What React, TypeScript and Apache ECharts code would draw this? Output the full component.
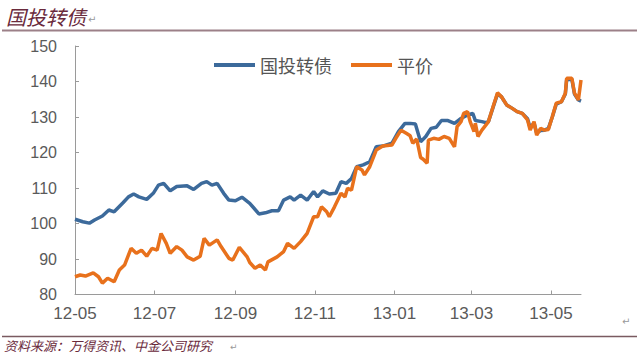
import React, { useEffect, useRef } from "react";
import * as echarts from "echarts";

const titleText = "国投转债";
const sourceText = "资料来源：万得资讯、中金公司研究";
const seriesNames = ["国投转债", "平价"];

const yTicks = [80, 90, 100, 110, 120, 130, 140, 150];
const xTickDates = ["2012-05-01", "2012-07-01", "2012-09-01", "2012-11-01", "2013-01-01", "2013-03-01", "2013-05-01"];
const xTickLabels = ["12-05", "12-07", "12-09", "12-11", "13-01", "13-03", "13-05"];

const bondDates = [
  "2012-05-01", "2012-05-07", "2012-05-12", "2012-05-16", "2012-05-22", "2012-05-27", "2012-05-31",
  "2012-06-07", "2012-06-11", "2012-06-15", "2012-06-19", "2012-06-25", "2012-06-30",
  "2012-07-04", "2012-07-08", "2012-07-13", "2012-07-18", "2012-07-26", "2012-07-31",
  "2012-08-06", "2012-08-10", "2012-08-14", "2012-08-18", "2012-08-23", "2012-08-27",
  "2012-09-01", "2012-09-06", "2012-09-12", "2012-09-19", "2012-09-24", "2012-09-29",
  "2012-10-04", "2012-10-08", "2012-10-13", "2012-10-16", "2012-10-21", "2012-10-26", "2012-10-31",
  "2012-11-03", "2012-11-07", "2012-11-12", "2012-11-17", "2012-11-21", "2012-11-25", "2012-11-29",
  "2012-12-03", "2012-12-08", "2012-12-13", "2012-12-18", "2012-12-23", "2012-12-30",
  "2013-01-04", "2013-01-09", "2013-01-13", "2013-01-17", "2013-01-21", "2013-01-25", "2013-01-29",
  "2013-02-02", "2013-02-06", "2013-02-11", "2013-02-16", "2013-02-21", "2013-02-26",
  "2013-03-02", "2013-03-04", "2013-03-09", "2013-03-12", "2013-03-14", "2013-03-18", "2013-03-21",
  "2013-03-24", "2013-03-28", "2013-04-01", "2013-04-05", "2013-04-09", "2013-04-13", "2013-04-15",
  "2013-04-18", "2013-04-20", "2013-04-23", "2013-04-26", "2013-04-29", "2013-05-02", "2013-05-05",
  "2013-05-09", "2013-05-12", "2013-05-13", "2013-05-17", "2013-05-19", "2013-05-22", "2013-05-24",
];
const bondValues = [
  101.2, 100.5, 100.1, 101.0, 102.1, 103.8, 103.3,
  105.9, 107.5, 108.3, 107.5, 106.8, 108.5,
  110.8, 111.3, 109.2, 110.4, 110.6, 109.6,
  111.3, 111.8, 110.8, 111.3, 108.5, 106.6,
  106.4, 107.4, 105.7, 102.7, 103.0, 103.6,
  103.6, 106.6, 107.5, 106.6, 108.0, 106.6, 109.0,
  107.5, 109.2, 108.3, 108.5, 111.8, 111.3, 112.7,
  116.0, 116.5, 117.4, 121.6, 121.8, 122.6,
  125.9, 128.2, 128.2, 128.0, 123.0, 124.5, 126.8,
  127.1, 129.0, 129.0, 128.2, 129.6, 130.6,
  131.0, 129.0, 128.7, 128.4, 128.7, 133.2, 136.5,
  135.7, 133.4, 132.5, 131.5, 131.0, 129.5, 127.0,
  128.3, 125.5, 126.2, 126.3, 126.8, 130.0, 133.6,
  134.3, 136.5, 140.5, 140.6, 136.5, 134.8, 134.5,
];

const parityDates = [
  "2012-05-01", "2012-05-05", "2012-05-09", "2012-05-15", "2012-05-19", "2012-05-22", "2012-05-26", "2012-05-31",
  "2012-06-04", "2012-06-08", "2012-06-13", "2012-06-17", "2012-06-21", "2012-06-25", "2012-06-29",
  "2012-07-03", "2012-07-06", "2012-07-10", "2012-07-13", "2012-07-18", "2012-07-22", "2012-07-26", "2012-07-31",
  "2012-08-05", "2012-08-08", "2012-08-12", "2012-08-18", "2012-08-21", "2012-08-27", "2012-08-30",
  "2012-09-04", "2012-09-10", "2012-09-12", "2012-09-16", "2012-09-20", "2012-09-24", "2012-09-26",
  "2012-10-03", "2012-10-08", "2012-10-11", "2012-10-16", "2012-10-21", "2012-10-26", "2012-10-31",
  "2012-11-03", "2012-11-06", "2012-11-10", "2012-11-12", "2012-11-16", "2012-11-21", "2012-11-24", "2012-11-26", "2012-11-29",
  "2012-12-03", "2012-12-07", "2012-12-09", "2012-12-13", "2012-12-18", "2012-12-23", "2012-12-30",
  "2013-01-02", "2013-01-06", "2013-01-10", "2013-01-13", "2013-01-15", "2013-01-18", "2013-01-21", "2013-01-23", "2013-01-26", "2013-01-27", "2013-01-31",
  "2013-02-04", "2013-02-08", "2013-02-12", "2013-02-16", "2013-02-18", "2013-02-21", "2013-02-23", "2013-02-26", "2013-02-28",
  "2013-03-03", "2013-03-04", "2013-03-06", "2013-03-09", "2013-03-12", "2013-03-14", "2013-03-18", "2013-03-21",
  "2013-03-24", "2013-03-28", "2013-04-01", "2013-04-05", "2013-04-09", "2013-04-13", "2013-04-15",
  "2013-04-18", "2013-04-20", "2013-04-23", "2013-04-26", "2013-04-29", "2013-05-02", "2013-05-05",
  "2013-05-09", "2013-05-12", "2013-05-13", "2013-05-17", "2013-05-19", "2013-05-22", "2013-05-24",
];
const parityValues = [
  85.0, 85.5, 85.2, 86.1, 85.0, 83.2, 84.6, 83.6,
  86.9, 88.3, 93.0, 91.6, 92.5, 90.8, 93.0,
  92.5, 97.2, 94.4, 91.6, 93.5, 92.5, 90.6, 89.7,
  90.8, 95.8, 93.9, 95.4, 93.5, 90.2, 89.7,
  93.3, 90.6, 89.0, 87.4, 88.3, 86.9, 89.2,
  90.6, 92.1, 94.4, 93.0, 94.9, 97.2, 101.9,
  101.9, 104.7, 103.3, 101.9, 104.7, 108.5, 107.5, 109.9, 109.4,
  116.0, 115.1, 113.7, 116.0, 120.7, 121.8, 122.1,
  124.0, 126.3, 125.4, 124.7, 122.6, 123.8, 118.6, 118.1, 117.0, 123.5, 124.0,
  123.7, 124.5, 124.0, 121.6, 127.3, 128.7, 131.0, 131.5, 128.7,
  125.9, 128.2, 124.5, 126.3, 127.7, 128.7, 133.4, 136.8,
  135.7, 133.4, 132.5, 131.5, 131.0, 129.2, 126.3,
  128.7, 124.9, 126.8, 126.3, 126.5, 130.1, 133.9,
  134.3, 136.7, 140.9, 140.9, 136.7, 134.8, 140.4,
];

const BLUE = "#3C6A9B";
const ORANGE = "#E8711C";
const MAROON = "#6A2A3C";

function toTs(s: string) {
  const [y, m, d] = s.split("-").map(Number);
  return new Date(y, m - 1, d).getTime();
}

export default function App() {
  const ref = useRef<HTMLDivElement>(null);
  useEffect(() => {
    if (!ref.current) return;
    const chart = echarts.init(ref.current, undefined, { renderer: "svg" });
    const tickTs = xTickDates.map(toTs);
    chart.setOption({
      animation: false,
      backgroundColor: "#ffffff",
      grid: { left: 75, top: 46, right: 59, bottom: 61.5, containLabel: false },
      legend: {
        left: 209,
        top: 51,
        icon: "rect",
        itemWidth: 41,
        itemHeight: 4,
        itemGap: 19,
        textStyle: { fontSize: 18, color: "#555555", fontFamily: "Noto Sans CJK SC" },
        data: seriesNames,
      },
      xAxis: {
        type: "value",
        min: toTs("2012-05-01"),
        max: toTs("2013-05-24"),
        axisLine: { lineStyle: { color: "#9a9a9a", width: 1 } },
        axisTick: { inside: true, length: 4, customValues: tickTs, lineStyle: { color: "#9a9a9a" } },
        axisLabel: {
          customValues: tickTs,
          margin: 10,
          fontSize: 17,
          color: "#5a5a5a",
          fontFamily: "Liberation Sans",
          hideOverlap: false,
          formatter: (v: number) => {
            const i = tickTs.indexOf(v);
            return i >= 0 ? xTickLabels[i] : "";
          },
        },
        splitLine: { show: false },
      },
      yAxis: {
        type: "value",
        min: 80,
        max: 150,
        interval: 10,
        axisLine: { show: true, lineStyle: { color: "#9a9a9a", width: 1 } },
        axisTick: { show: true, inside: true, length: 4, lineStyle: { color: "#9a9a9a" } },
        axisLabel: {
          margin: 18,
          fontSize: 16,
          color: "#5a5a5a",
          fontFamily: "Liberation Sans",
          formatter: (v: number) => (yTicks.includes(v) ? String(v) : ""),
        },
        splitLine: { show: false },
      },
      series: [
        {
          name: seriesNames[0],
          type: "line",
          showSymbol: false,
          color: BLUE,
          lineStyle: { width: 3.5, color: BLUE },
          data: bondDates.map((d, i) => [toTs(d), bondValues[i]]),
        },
        {
          name: seriesNames[1],
          type: "line",
          showSymbol: false,
          color: ORANGE,
          lineStyle: { width: 3.5, color: ORANGE },
          data: parityDates.map((d, i) => [toTs(d), parityValues[i]]),
        },
      ],
      graphic: [
        {
          type: "text",
          left: 6,
          top: 6,
          style: { text: titleText, fontSize: 20, fontStyle: "italic", fill: MAROON, fontFamily: "Noto Sans CJK SC" },
        },
        {
          type: "text",
          left: 88,
          top: 14,
          style: { text: "↵", fontSize: 10, fill: "#999999", fontFamily: "DejaVu Sans" },
        },
        {
          type: "line",
          shape: { x1: 2, y1: 30.5, x2: 637, y2: 30.5 },
          style: { stroke: "#9C8088", lineWidth: 2 },
        },
        {
          type: "text",
          left: 622,
          top: 316,
          style: { text: "↵", fontSize: 10, fill: "#999999", fontFamily: "DejaVu Sans" },
        },
        {
          type: "line",
          shape: { x1: 2, y1: 336.5, x2: 637, y2: 336.5 },
          style: { stroke: "#7A5A60", lineWidth: 1.5 },
        },
        {
          type: "text",
          left: 4,
          top: 339,
          style: { text: sourceText, fontSize: 13, fontStyle: "italic", fill: MAROON, fontFamily: "Noto Sans CJK SC" },
        },
        {
          type: "text",
          left: 230,
          top: 342,
          style: { text: "↵", fontSize: 9, fill: "#999999", fontFamily: "DejaVu Sans" },
        },
      ],
    });
    return () => chart.dispose();
  }, []);
  return <div ref={ref} style={{ width: 640, height: 356, position: "absolute", left: 0, top: 0 }} />;
}
